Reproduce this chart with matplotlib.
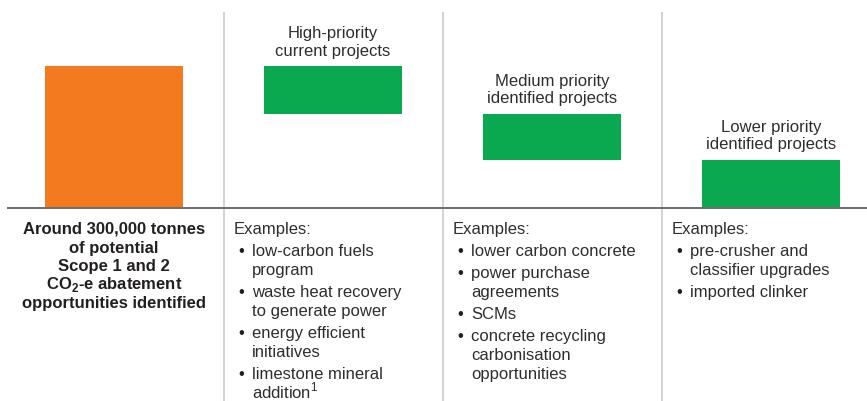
import matplotlib.pyplot as plt
from matplotlib.transforms import blended_transform_factory

plt.rcParams.update({
    "font.family": "Liberation Sans",
    "font.size": 12,
    "mathtext.fontset": "custom",
    "mathtext.rm": "Liberation Sans",
    "mathtext.bf": "Liberation Sans:bold",
})

# ── Data: potential abatement, thousand tonnes CO2-e ────────────────────────
total = 300
step_labels = ["High-priority\ncurrent projects",
               "Medium priority\nidentified projects",
               "Lower priority\nidentified projects"]
step_values = [101, 97, 102]

total_text = ["Around 300,000 tonnes", "of potential", "Scope 1 and 2",
              r"CO$_{\mathbf{2}}$-e abatement", "opportunities identified"]

examples = [
    [["low-carbon fuels", "program"],
     ["waste heat recovery", "to generate power"],
     ["energy efficient", "initiatives"],
     ["limestone mineral", r"addition$^{1}$"]],
    [["lower carbon concrete"],
     ["power purchase", "agreements"],
     ["SCMs"],
     ["concrete recycling", "carbonisation", "opportunities"]],
    [["pre-crusher and", "classifier upgrades"],
     ["imported clinker"]],
]

ORANGE = "#f47a20"
GREEN = "#0aa84f"
TEXT = "#231f20"
TEXT_LIGHT = "#2e2e2e"

# waterfall bottoms
bottoms = []
level = total
for v in step_values:
    level -= v
    bottoms.append(level)

# ── Figure: one axes over the whole canvas ──────────────────────────────────
W, H = 867, 402
fig = plt.figure(figsize=(W / 100, H / 100), dpi=100)
ax = fig.add_axes([0, 0, 1, 1])
ax.axis("off")

col_px = 219.0            # pixels per category
x0_px = 114.0             # pixel centre of first category
base_px = 209.0           # baseline pixel (from top)
unit_px = 142.0 / total   # pixels per data unit

ax.set_xlim(-x0_px / col_px, (W - x0_px) / col_px)
ax.set_ylim(-(H - base_px) / unit_px, base_px / unit_px)

xs = list(range(len(step_values) + 1))
ax.bar(xs[0], total, width=0.63, color=ORANGE, zorder=2)
bars = ax.bar(xs[1:], step_values, bottom=bottoms, width=0.63, color=GREEN, zorder=2)

for b, lab in zip(bars, step_labels):
    ax.annotate(lab, (b.get_x() + b.get_width() / 2, b.get_y() + b.get_height()),
                xytext=(0, 6), textcoords="offset points", ha="center", va="bottom",
                linespacing=1.2, color=TEXT_LIGHT)

# dividers and baseline
ax.vlines([x + 0.5 for x in xs[:-1]], -(H - base_px) / unit_px, (base_px - 13) / unit_px,
          color="#c9c9d0", lw=1.2, zorder=1)
ax.hlines(0, -(x0_px - 7) / col_px, (W - x0_px) / col_px, color="#6d6e71", lw=1.4, zorder=3)

# ── Text under the bars ─────────────────────────────────────────────────────
tr = blended_transform_factory(ax.transData, fig.transFigure)


def fy(py):
    return 1 - py / H


y = 234.0
for line in total_text:
    ax.text(xs[0], fy(y), line, transform=tr, ha="center", va="baseline",
            fontweight="bold", color=TEXT)
    y += 18.5

for i, items in enumerate(examples):
    xc = xs[i + 1]
    x_head = xc - 99 / col_px
    x_bul = xc - 95 / col_px
    x_txt = xc - 81 / col_px
    y = 234.0
    ax.text(x_head, fy(y), "Examples:", transform=tr, ha="left", va="baseline",
            color=TEXT_LIGHT)
    for item in items:
        y += 22
        ax.text(x_bul, fy(y), "\u2022", transform=tr, ha="left", va="baseline", color=TEXT)
        for j, line in enumerate(item):
            if j:
                y += 19
            ax.text(x_txt, fy(y), line, transform=tr, ha="left", va="baseline",
                    color=TEXT_LIGHT)

fig.savefig("out.png", dpi=100)
